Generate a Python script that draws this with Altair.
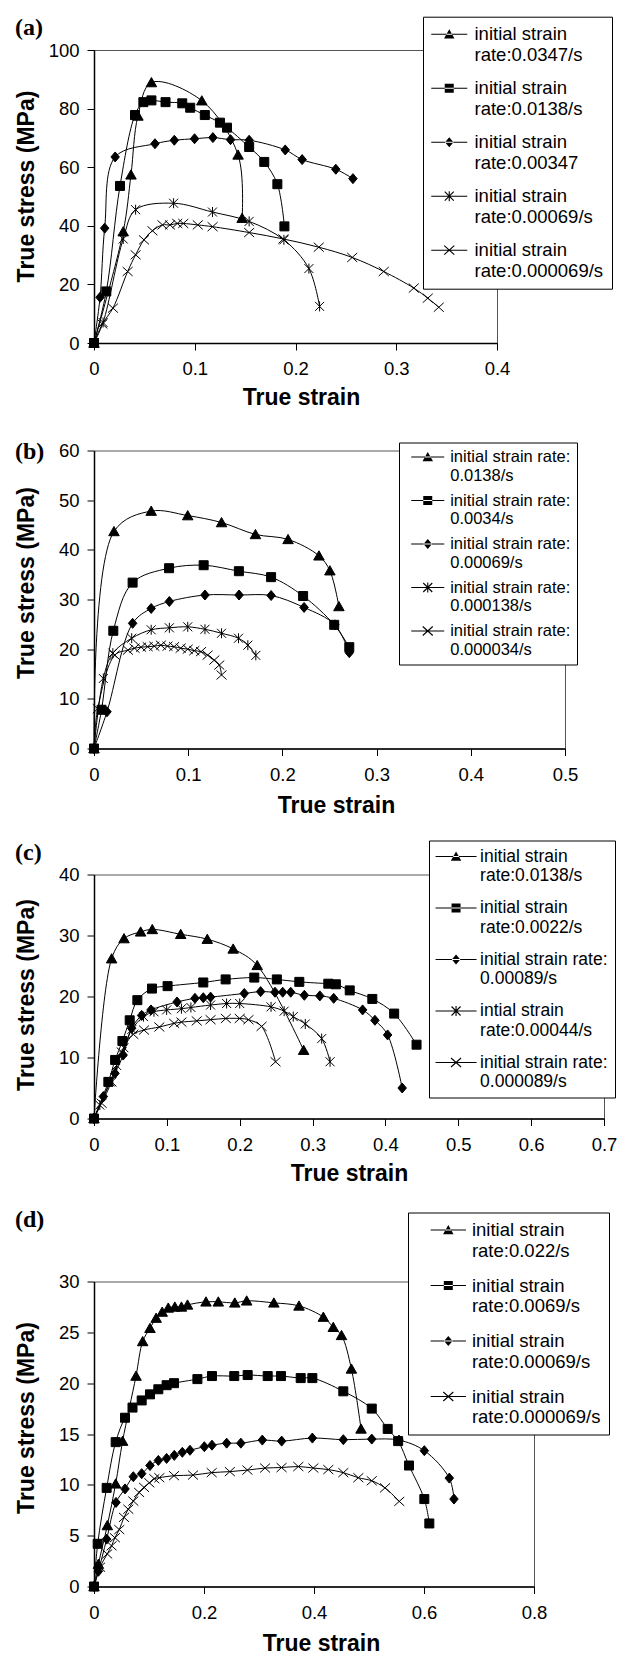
import math
import altair as alt
import pandas as pd

# ---------------- data: panel (a) ----------------
A_NAMES = ["initial strain|rate:0.0347/s", "initial strain|rate:0.0138/s",
           "initial strain|rate:0.00347", "initial strain|rate:0.00069/s",
           "initial strain|rate:0.000069/s"]
A1_X = [0, 0.029, 0.0367, 0.0436, 0.057, 0.107, 0.143, 0.147]
A1_Y = [0, 38, 57.4, 77.5, 88.9, 82.7, 64.2, 42.6]
A2_X = [0, 0.0122, 0.0258, 0.0407, 0.049, 0.057, 0.071, 0.0876, 0.0955, 0.110, 0.125, 0.132, 0.154, 0.169, 0.182, 0.189]
A2_Y = [0, 17.6, 53.6, 77.8, 82.2, 82.8, 82.2, 81.8, 80.3, 77.8, 75.2, 73.5, 66.9, 61.8, 54.2, 39.8]
A3_X = [0, 0.006, 0.0106, 0.021, 0.0605, 0.0797, 0.0998, 0.118, 0.1355, 0.154, 0.1898, 0.2066, 0.240, 0.257]
A3_Y = [0, 15.6, 39.2, 63.5, 68, 69.2, 69.7, 70.1, 69.4, 69.2, 65.9, 62.6, 59.3, 56.1]
A4_X = [0, 0.009, 0.029, 0.0413, 0.079, 0.1176, 0.154, 0.1885, 0.2133, 0.2239]
A4_Y = [0, 7, 35.5, 45.5, 47.7, 44.7, 41.5, 35.2, 25.4, 12.5]
A5_X = [0, 0.0083, 0.0188, 0.0334, 0.0413, 0.0496, 0.058, 0.068, 0.0754, 0.0826, 0.0886, 0.103, 0.1177,
        0.154, 0.188, 0.2231, 0.2563, 0.2876, 0.3174, 0.3313, 0.3422]
A5_Y = [0, 6.5, 11.9, 24.4, 30.1, 35.2, 38.3, 40.3, 40.3, 40.8, 40.8, 40.3, 39.7,
        37.7, 35.5, 32.7, 29.2, 24.4, 18.75, 15.3, 12.2]

# ---------------- data: panel (b) ----------------
B_NAMES = ["initial strain rate:|0.0138/s", "initial strain rate:|0.0034/s",
           "initial strain rate:|0.00069/s", "initial strain rate:|0.000138/s",
           "initial strain rate:|0.000034/s"]
B1_X = [0, 0.0212, 0.0607, 0.0995, 0.1354, 0.1714, 0.206, 0.2388, 0.2504, 0.26]
B1_Y = [0, 43.7, 47.8, 46.9, 45.5, 43.1, 42.1, 38.8, 35.8, 28.6]
B2_X = [0, 0.008, 0.0205, 0.041, 0.0797, 0.1164, 0.1538, 0.188, 0.222, 0.255, 0.271]
B2_Y = [0, 7.8, 23.7, 33.4, 36.3, 36.9, 35.7, 34.5, 30.7, 24.9, 20.4]
B3_X = [0, 0.0138, 0.041, 0.0607, 0.08, 0.1178, 0.154, 0.188, 0.223, 0.2557, 0.271]
B3_Y = [0, 7.4, 25.2, 28.2, 29.6, 30.9, 30.9, 30.8, 28.4, 24.9, 19.3]
B4_X = [0, 0.0099, 0.02, 0.040, 0.0607, 0.08, 0.0995, 0.1178, 0.1354, 0.1534, 0.1633, 0.1718]
B4_Y = [0, 14.1, 19.2, 22.2, 23.9, 24.3, 24.5, 24.0, 23.2, 22.2, 20.8, 18.75]
B5_X = [0, 0.004, 0.022, 0.036, 0.043, 0.050, 0.057, 0.064, 0.071, 0.078, 0.085, 0.092, 0.0995,
        0.1065, 0.1136, 0.1206, 0.1277, 0.133, 0.1354]
B5_Y = [0, 8, 18.8, 19.8, 20.2, 20.4, 20.5, 20.6, 20.8, 20.6, 20.5, 20.2, 20.0,
        19.7, 19.5, 18.8, 17.8, 16.8, 14.8]

# ---------------- data: panel (c) ----------------
C_NAMES = ["initial strain|rate:0.0138/s", "initial strain|rate:0.0022/s",
           "initial strain rate:|0.00089/s", "intial strain|rate:0.00044/s",
           "initial strain rate:|0.000089/s"]
C1_X = [0, 0.0242, 0.0412, 0.064, 0.080, 0.119, 0.1555, 0.191, 0.224, 0.2877]
C1_Y = [0, 26.2, 29.5, 30.6, 31.0, 30.2, 29.4, 27.8, 25.1, 11.2]
C2_X = [0, 0.0197, 0.029, 0.039, 0.049, 0.0595, 0.0796, 0.101, 0.150, 0.1807, 0.220, 0.251, 0.2818,
        0.3216, 0.332, 0.351, 0.382, 0.412, 0.4427]
C2_Y = [0, 6.0, 9.6, 12.7, 16.1, 19.4, 21.3, 21.7, 22.3, 22.8, 23.1, 22.8, 22.4,
        22.1, 22.0, 21.0, 19.6, 17.2, 12.1]
C3_X = [0, 0.0128, 0.0288, 0.040, 0.0517, 0.0654, 0.0782, 0.114, 0.1386, 0.150, 0.160, 0.2063, 0.2287,
        0.2484, 0.259, 0.270, 0.2887, 0.310, 0.329, 0.3687, 0.3856, 0.403, 0.423]
C3_Y = [0, 3.6, 7.4, 10.4, 14.8, 16.9, 17.8, 19.1, 19.7, 19.8, 19.9, 20.5, 20.8,
        20.7, 20.7, 20.7, 20.2, 20.1, 19.7, 17.8, 16.1, 13.7, 5.0]
C4_X = [0, 0.008, 0.022, 0.031, 0.041, 0.052, 0.068, 0.0823, 0.0997, 0.120, 0.133, 0.160, 0.182,
        0.200, 0.243, 0.261, 0.2735, 0.290, 0.3125, 0.324]
C4_Y = [0, 2.2, 6.0, 8.7, 11.6, 14.6, 16.7, 17.5, 17.8, 18.0, 18.2, 18.6, 18.85,
        18.85, 18.3, 17.6, 16.7, 15.5, 13.1, 9.3]
C5_X = [0, 0.0105, 0.024, 0.038, 0.054, 0.0686, 0.0897, 0.110, 0.120, 0.141, 0.160, 0.181, 0.200,
        0.212, 0.230, 0.2492]
C5_Y = [0, 2.5, 6.0, 10.9, 13.8, 14.5, 15.0, 15.6, 15.8, 16.0, 16.2, 16.4, 16.4,
        16.2, 15.1, 9.3]

# ---------------- data: panel (d) ----------------
D_NAMES = ["initial strain|rate:0.022/s", "initial strain|rate:0.0069/s",
           "initial strain|rate:0.00069/s", "initial strain|rate:0.000069/s"]
D1_X = [0, 0.008, 0.0242, 0.0394, 0.052, 0.0764, 0.0885, 0.1018, 0.113, 0.124, 0.135, 0.147, 0.159,
        0.170, 0.2036, 0.226, 0.256, 0.2776, 0.327, 0.3727, 0.417, 0.435, 0.450, 0.468, 0.4855]
D1_Y = [0, 2.2, 6.0, 10.1, 14.3, 20.7, 24.1, 25.4, 26.4, 27.0, 27.4, 27.5, 27.5,
        27.7, 28.0, 28.0, 27.9, 28.1, 27.9, 27.6, 26.5, 25.5, 24.7, 21.4, 15.5]
D2_X = [0, 0.0067, 0.023, 0.0394, 0.0564, 0.070, 0.0867, 0.1018, 0.117, 0.132, 0.1455, 0.188, 0.2145,
        0.255, 0.2794, 0.3158, 0.340, 0.3758, 0.397, 0.4533, 0.505, 0.534, 0.553, 0.5727, 0.6006, 0.6097]
D2_Y = [0, 4.2, 9.7, 14.2, 16.6, 17.6, 18.3, 18.9, 19.4, 19.8, 20.0, 20.4, 20.7,
        20.7, 20.8, 20.7, 20.7, 20.5, 20.5, 19.2, 17.5, 15.5, 14.3, 11.9, 8.6, 6.2]
D3_X = [0, 0.008, 0.023, 0.040, 0.0564, 0.0715, 0.0867, 0.1018, 0.117, 0.132, 0.146, 0.1606, 0.1745,
        0.2006, 0.2145, 0.2412, 0.267, 0.306, 0.3412, 0.397, 0.4533, 0.505, 0.5545, 0.6006, 0.646, 0.6545]
D3_Y = [0, 1.5, 4.66, 8.27, 9.6, 10.8, 11.1, 11.9, 12.4, 12.6, 12.9, 13.2, 13.4,
        13.75, 13.9, 14.1, 14.1, 14.4, 14.3, 14.6, 14.44, 14.5, 14.4, 13.36, 10.66, 8.6]
D4_X = [0, 0.011, 0.024, 0.032, 0.038, 0.046, 0.0545, 0.0624, 0.0715, 0.082, 0.091, 0.1006, 0.1097,
        0.1188, 0.1455, 0.180, 0.214, 0.247, 0.279, 0.311, 0.341, 0.3715, 0.3988, 0.426, 0.4533,
        0.4806, 0.505, 0.5291, 0.555]
D4_Y = [0, 1.9, 3.2, 4.0, 4.8, 5.6, 6.8, 7.6, 8.4, 9.25, 9.75, 10.2, 10.6,
        10.7, 10.9, 10.96, 11.2, 11.3, 11.45, 11.65, 11.7, 11.8, 11.65, 11.5, 11.2,
        10.7, 10.4, 9.7, 8.37]

# ---------------- marker shapes ----------------
KINDS5 = ["tri", "sq", "dia", "ast", "x"]
KINDS4 = ["tri", "sq", "dia", "x"]


def marker(kind, s, cx=0.0):
    def p(x, y):
        return f"{x * s + cx:.4f},{y * s:.4f}"
    if kind == "tri":
        return f"M{p(0, -1)}L{p(1.05, 0.85)}L{p(-1.05, 0.85)}Z"
    if kind == "sq":
        return f"M{p(-0.9, -0.9)}L{p(0.9, -0.9)}L{p(0.9, 0.9)}L{p(-0.9, 0.9)}Z"
    if kind == "dia":
        return f"M{p(0, -1)}L{p(0.85, 0)}L{p(0, 1)}L{p(-0.85, 0)}Z"
    if kind == "ast":
        return f"M{p(-0.9, -0.9)}L{p(0.9, 0.9)}M{p(-0.9, 0.9)}L{p(0.9, -0.9)}M{p(0, -1)}L{p(0, 1)}"
    return f"M{p(-1, -0.9)}L{p(1, 0.9)}M{p(-1, 0.9)}L{p(1, -0.9)}"


def seg(x1, y1, x2, y2, w):
    dx, dy = x2 - x1, y2 - y1
    ln = math.hypot(dx, dy)
    nx, ny = -dy / ln * w / 2, dx / ln * w / 2
    return (f"M{x1 + nx:.4f},{y1 + ny:.4f}L{x2 + nx:.4f},{y2 + ny:.4f}"
            f"L{x2 - nx:.4f},{y2 - ny:.4f}L{x1 - nx:.4f},{y1 - ny:.4f}Z")


def legend_symbol(kind, S, start, L):
    # filled outline: a horizontal line (from `start` px, `L` px long) with the marker in its middle
    u = S / 2.0
    x0 = -1 + start / u
    x1 = x0 + L / u
    xc = (x0 + x1) / 2
    w = 1.1 / u
    s = 5.0 / u
    path = seg(x0, 0, x1, 0, w)
    if kind in ("tri", "sq", "dia"):
        return path + marker(kind, s, xc)
    if kind == "ast":
        return (path + seg(xc - 0.9 * s, -0.9 * s, xc + 0.9 * s, 0.9 * s, w)
                + seg(xc - 0.9 * s, 0.9 * s, xc + 0.9 * s, -0.9 * s, w)
                + seg(xc, -s, xc, s, w))
    return (path + seg(xc - s, -0.9 * s, xc + s, 0.9 * s, w)
            + seg(xc - s, 0.9 * s, xc + s, -0.9 * s, w))


def frame(names, xs, ys):
    rows = []
    for name, xl, yl in zip(names, xs, ys):
        for i, (a, b) in enumerate(zip(xl, yl)):
            rows.append({"strain": a, "stress": b, "series": name, "idx": i})
    return pd.DataFrame(rows)


FONT = "Liberation Sans"


def panel(df, names, kinds, xmax, xvals, ymax, yvals, w, h, leg, ttl, xt, yt):
    x = alt.X("strain:Q", scale=alt.Scale(domain=[0, xmax], nice=False, zero=True),
              axis=alt.Axis(values=xvals, format="~g", title="True strain",
                            titleX=xt[0], titleY=xt[1], titleBaseline="top", titleAlign="center"))
    y = alt.Y("stress:Q", scale=alt.Scale(domain=[0, ymax], nice=False, zero=True),
              axis=alt.Axis(values=yvals, title="True stress (MPa)",
                            titleX=yt[0], titleY=yt[1], titleBaseline="middle",
                            titleAlign="center", titleAngle=270))
    base = alt.Chart(df)
    lines = base.mark_line(interpolate="catmull-rom", color="black", strokeWidth=1).encode(
        x=x, y=y, detail="series:N", order="idx:Q")
    pts = base.mark_point(filled=True, fill="black", stroke="black", strokeWidth=1,
                          opacity=1, size=100).encode(
        x=x, y=y,
        shape=alt.Shape("series:N", scale=alt.Scale(domain=names,
                                                      range=[marker(k, 1.0) for k in kinds]),
                        legend=None))
    S = leg["fs"]                       # symbol box kept small so entries stay compact
    start = leg["gap"] - leg["pad"]     # line start inside the symbol box
    off = leg["gap"] + leg["len"] + leg["off"] - leg["pad"] - S
    lg = base.mark_point(filled=True, fill="black", stroke="black", strokeWidth=0,
                         opacity=0).encode(
        x=x, y=y,
        shape=alt.Shape("series:N",
                        scale=alt.Scale(domain=names,
                                        range=[legend_symbol(k, S, start, leg["len"]) for k in kinds]),
                        legend=alt.Legend(
                            orient="none", legendX=leg["x"], legendY=leg["y"], direction="vertical",
                            title=None, labelExpr="split(datum.label, '|')",
                            labelFont=FONT, labelFontSize=leg["fs"], labelColor="black",
                            labelLimit=400, labelBaseline="middle", labelOffset=off,
                            symbolSize=S * S, symbolStrokeWidth=0,
                            symbolFillColor="black", symbolOpacity=1,
                            rowPadding=leg["rp"], padding=leg["pad"],
                            fillColor="white", strokeColor="black")))
    return alt.layer(lines, pts, lg).resolve_scale(shape="independent").properties(
        width=w, height=h,
        title=alt.TitleParams(text=ttl[0], anchor="start", frame="bounds",
                              font="Liberation Serif", fontSize=24, fontWeight="bold",
                              color="black", offset=0, dy=ttl[1]))


pa = panel(frame(A_NAMES, [A1_X, A2_X, A3_X, A4_X, A5_X], [A1_Y, A2_Y, A3_Y, A4_Y, A5_Y]),
           A_NAMES, KINDS5, 0.4, [0, 0.1, 0.2, 0.3, 0.4], 100, [0, 20, 40, 60, 80, 100],
           403, 293,
           {"x": 329, "y": -33.3, "len": 36, "gap": 8, "fs": 18.5, "off": 7, "rp": 14, "pad": 8},
           ("(a)", 24), (207, 43), (-68, 136))
pb = panel(frame(B_NAMES, [B1_X, B2_X, B3_X, B4_X, B5_X], [B1_Y, B2_Y, B3_Y, B4_Y, B5_Y]),
           B_NAMES, KINDS5, 0.5, [0, 0.1, 0.2, 0.3, 0.4, 0.5], 60, [0, 10, 20, 30, 40, 50, 60],
           471, 298,
           {"x": 305, "y": -8, "len": 33, "gap": 12, "fs": 16.5, "off": 5.7, "rp": 7.5, "pad": 6},
           ("(b)", 22), (242, 46), (-68, 132))
pc = panel(frame(C_NAMES, [C1_X, C2_X, C3_X, C4_X, C5_X], [C1_Y, C2_Y, C3_Y, C4_Y, C5_Y]),
           C_NAMES, KINDS5, 0.7, [0, 0.1, 0.2, 0.3, 0.4, 0.5, 0.6, 0.7], 40, [0, 10, 20, 30, 40],
           510, 244,
           {"x": 335, "y": -34, "len": 41, "gap": 6.3, "fs": 17.5, "off": 3.3, "rp": 14.5, "pad": 7},
           ("(c)", 25), (255, 44), (-68, 120))
pd_ = panel(frame(D_NAMES, [D1_X, D2_X, D3_X, D4_X], [D1_Y, D2_Y, D3_Y, D4_Y]),
            D_NAMES, KINDS4, 0.8, [0, 0.2, 0.4, 0.6, 0.8], 30, [0, 5, 10, 15, 20, 25, 30],
            440, 305,
            {"x": 314, "y": -69, "len": 35.3, "gap": 22.4, "fs": 18.5, "off": 5.7, "rp": 15.5, "pad": 8},
            ("(d)", 19.5), (227, 46), (-68, 136))

top = alt.vconcat(pa, pb, spacing=28.5).resolve_scale(x="independent", y="independent", shape="independent")
bottom = alt.vconcat(pc, pd_, spacing=20).resolve_scale(x="independent", y="independent", shape="independent")

chart = alt.vconcat(top, bottom, spacing=21.5).resolve_scale(
    x="independent", y="independent", shape="independent"
).properties(
    padding={"left": 14, "top": 15, "right": 0, "bottom": 0},
    background="white",
).configure_axis(
    grid=False, domainColor="black", domainWidth=1.5, tickColor="black", tickWidth=1,
    tickSize=7, labelFont=FONT, labelFontSize=18.5, labelColor="black", labelFlush=False,
    labelOverlap=False, titleFont=FONT, titleFontSize=23, titleFontWeight="bold",
    titleColor="black",
).configure_axisX(labelPadding=9.5).configure_axisY(labelPadding=8).configure_view(
    stroke="#555", strokeWidth=1
)

chart.save("out.html", embed_options={"renderer": "svg", "actions": False})
